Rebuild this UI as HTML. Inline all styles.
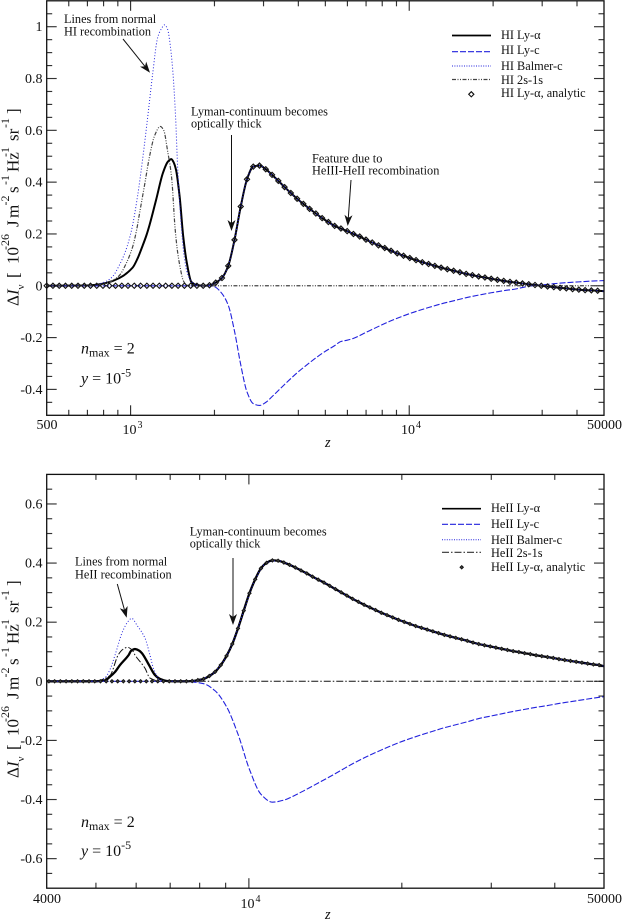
<!DOCTYPE html>
<html lang="en">
<head>
<meta charset="utf-8">
<title>HI and HeII recombination spectra</title>
<style>
html,body{margin:0;padding:0;background:#fff;width:622px;height:921px;overflow:hidden}
svg{display:block;font-family:"Liberation Serif","DejaVu Serif",serif;fill:#111}
.ann{font-size:12.3px}
.leg{font-size:12.3px}
.tick{font-size:14px}
.ylab{font-size:17px}
.note{font-size:16px}
</style>
</head>
<body>
<svg id="chart" xmlns="http://www.w3.org/2000/svg" width="622" height="921" viewBox="0 0 622 921">
<rect x="0" y="0" width="622" height="921" fill="#fff"/>
<g id="top-plot"></g>
<g id="bottom-plot"></g>

<g class="tick">
<text x="47" y="429" text-anchor="middle">500</text>
<text x="122.5" y="434">10<tspan dx="1" dy="-6" font-size="10">3</tspan></text>
<text x="401" y="434">10<tspan dx="1" dy="-6" font-size="10">4</tspan></text>
<text x="604.5" y="429" text-anchor="middle">50000</text>
<text x="325" y="447" font-style="italic" font-size="14.5">z</text>
</g>
<g class="tick">
<text x="47" y="903" text-anchor="middle">4000</text>
<text x="240.5" y="908">10<tspan dx="1" dy="-6" font-size="10">4</tspan></text>
<text x="604.5" y="903" text-anchor="middle">50000</text>
<text x="325" y="919" font-style="italic" font-size="14.5">z</text>
</g>

<g>
<text transform="rotate(-90)" class="ylab"><tspan x="-306" y="18.5">Δ</tspan><tspan x="-295" y="18.5" font-style="italic">I</tspan><tspan x="-289.5" y="24" font-size="11">ν</tspan><tspan x="-278" y="18.5">[</tspan><tspan x="-264" y="18.5">10</tspan><tspan x="-250" y="9" font-size="12">-26</tspan><tspan x="-227" y="18.5">J</tspan><tspan x="-218" y="18.5">m</tspan><tspan x="-205.5" y="9" font-size="12">-2</tspan><tspan x="-193" y="18.5">s</tspan><tspan x="-185" y="9" font-size="12">-1</tspan><tspan x="-172" y="18.5">Hz</tspan><tspan x="-157" y="9" font-size="12">-1</tspan><tspan x="-141" y="18.5">sr</tspan><tspan x="-128" y="9" font-size="12">-1</tspan><tspan x="-114" y="18.5">]</tspan></text>
</g>
<g transform="translate(0,472)">
<text transform="rotate(-90)" class="ylab"><tspan x="-306" y="18.5">Δ</tspan><tspan x="-295" y="18.5" font-style="italic">I</tspan><tspan x="-289.5" y="24" font-size="11">ν</tspan><tspan x="-278" y="18.5">[</tspan><tspan x="-264" y="18.5">10</tspan><tspan x="-250" y="9" font-size="12">-26</tspan><tspan x="-227" y="18.5">J</tspan><tspan x="-218" y="18.5">m</tspan><tspan x="-205.5" y="9" font-size="12">-2</tspan><tspan x="-193" y="18.5">s</tspan><tspan x="-185" y="9" font-size="12">-1</tspan><tspan x="-172" y="18.5">Hz</tspan><tspan x="-157" y="9" font-size="12">-1</tspan><tspan x="-141" y="18.5">sr</tspan><tspan x="-128" y="9" font-size="12">-1</tspan><tspan x="-114" y="18.5">]</tspan></text>
</g>

<g class="ann">
<text x="64" y="23">Lines from normal</text>
<text x="64" y="35.5">HI recombination</text>
<line x1="123" y1="39" x2="145" y2="66.4" stroke="#111" stroke-width="1"/>
<polygon points="150,72.7 146.2,61.6 145,66.4 140,66.6" fill="#111"/>
<text x="191" y="115.7">Lyman-continuum becomes</text>
<text x="191" y="127.7">optically thick</text>
<line x1="231.5" y1="135" x2="231.5" y2="223" stroke="#111" stroke-width="1"/>
<polygon points="231.5,231 227.5,220 231.5,223 235.5,220" fill="#111"/>
<text x="312" y="162.5">Feature due to</text>
<text x="312" y="174.7">HeIII-HeII recombination</text>
<line x1="351" y1="180" x2="348.3" y2="218" stroke="#111" stroke-width="1"/>
<polygon points="347.7,226 352.5,215.3 348.3,218 344.5,214.7" fill="#111"/>
<g font-size="16">
<text x="81" y="353.5"><tspan font-style="italic">n</tspan><tspan font-size="12" dy="3">max</tspan><tspan dy="-3"> = 2</tspan></text>
<text x="81" y="383.5"><tspan font-style="italic">y</tspan> = 10<tspan font-size="12" dy="-7">-5</tspan></text>
</g>
</g>

<g class="leg">
<line x1="452" x2="491" y1="35.5" y2="35.5" stroke="#000" stroke-width="1.7"/>
<line x1="452" x2="491" y1="51.7" y2="51.7" stroke="#2222dd" stroke-width="1.2" stroke-dasharray="6 2"/>
<line x1="452" x2="491" y1="66" y2="66" stroke="#2222dd" stroke-width="1" stroke-dasharray="1 1.4"/>
<line x1="452" x2="491" y1="79.5" y2="79.5" stroke="#444" stroke-width="1.2" stroke-dasharray="4 1.5 1 1.5 1 1.5"/>
<polygon points="471.3,91.7 473.9,94.3 471.3,96.9 468.7,94.3" fill="none" stroke="#111" stroke-width="1.1"/>
<text x="501" y="39">HI Ly-α</text>
<text x="501" y="54">HI Ly-c</text>
<text x="501" y="70">HI Balmer-c</text>
<text x="501" y="84">HI 2s-1s</text>
<text x="501" y="97">HI Ly-α, analytic</text>
</g>

<g class="ann">
<text x="75" y="565.7">Lines from normal</text>
<text x="75" y="578.3">HeII recombination</text>
<line x1="117.3" y1="584" x2="124.5" y2="610" stroke="#111" stroke-width="1"/>
<polygon points="126.7,617.7 127.6,606 124.5,610 119.8,608.2" fill="#111"/>
<text x="189.7" y="535.7">Lyman-continuum becomes</text>
<text x="189.7" y="547.7">optically thick</text>
<line x1="233" y1="558" x2="233" y2="617" stroke="#111" stroke-width="1"/>
<polygon points="233,625 229,614 233,617 237,614" fill="#111"/>
<g font-size="16">
<text x="81" y="827"><tspan font-style="italic">n</tspan><tspan font-size="12" dy="3">max</tspan><tspan dy="-3"> = 2</tspan></text>
<text x="81" y="856"><tspan font-style="italic">y</tspan> = 10<tspan font-size="12" dy="-7">-5</tspan></text>
</g>
</g>

<g class="leg">
<line x1="442" x2="481" y1="508.7" y2="508.7" stroke="#000" stroke-width="1.7"/>
<line x1="442" x2="481" y1="524.3" y2="524.3" stroke="#2222dd" stroke-width="1.2" stroke-dasharray="6 2"/>
<line x1="442" x2="481" y1="539.7" y2="539.7" stroke="#2222dd" stroke-width="1" stroke-dasharray="1 1.4"/>
<line x1="442" x2="481" y1="552.3" y2="552.3" stroke="#333" stroke-width="1.1" stroke-dasharray="7 2 1.5 2"/>
<polygon points="461.7,565.6 463.4,567.3 461.7,569 460,567.3" fill="#444" stroke="#111" stroke-width="0.9"/>
<text x="491" y="512">HeII Ly-α</text>
<text x="491" y="528">HeII Ly-c</text>
<text x="491" y="544">HeII Balmer-c</text>
<text x="491" y="557">HeII 2s-1s</text>
<text x="491" y="571">HeII Ly-α, analytic</text>
</g>
</svg>

<script>
/* ---------- Axis tick data ---------- */
const hiXMajorTicks = [1000, 10000];
const hiXMinorTicks = [600, 700, 800, 900, 2000, 3000, 4000, 5000, 6000, 7000, 8000, 9000, 20000, 30000, 40000];
const hiYTickValues = [1, 0.8, 0.6, 0.4, 0.2, 0, -0.2, -0.4];
const hiYTickLabels = ["1", "0.8", "0.6", "0.4", "0.2", "0", "-0.2", "-0.4"];
const hiYMinorTicks = [1.05, 0.95, 0.9, 0.85, 0.75, 0.7, 0.65, 0.55, 0.5, 0.45, 0.35, 0.3, 0.25, 0.15, 0.1, 0.05, -0.05, -0.1, -0.15, -0.25, -0.3, -0.35, -0.45];

const heXMajorTicks = [10000];
const heXMinorTicks = [5000, 6000, 7000, 8000, 9000, 20000, 30000, 40000];
const heYTickValues = [0.6, 0.4, 0.2, 0, -0.2, -0.4, -0.6];
const heYTickLabels = ["0.6", "0.4", "0.2", "0", "-0.2", "-0.4", "-0.6"];
const heYMinorTicks = [0.65, 0.55, 0.5, 0.45, 0.35, 0.3, 0.25, 0.15, 0.1, 0.05, -0.05, -0.1, -0.15, -0.25, -0.3, -0.35, -0.45, -0.5, -0.55, -0.65];

/* ---------- HI panel series ---------- */
const hiLyAlphaZ = [500, 700, 753, 818, 912, 1017, 1059, 1105, 1140, 1170, 1237, 1306, 1361, 1400, 1425, 1456, 1500, 1545, 1592, 1652, 1727, 1847, 1919, 2021, 2128, 2241, 2360, 2485, 2617, 2756, 2902, 3056, 3219, 3390, 3570, 3759, 3959, 4169, 4390, 4623, 4869, 5127, 5400, 5686, 5988, 6306, 6641, 6994, 7365, 7756, 8168, 8602, 9058, 9539, 10046, 10579, 11141, 11733, 12356, 13012, 13703, 14430, 15197, 16004, 16854, 17748, 18691, 19684, 20729, 21830, 22989, 24210, 25496, 26850, 28275, 29777, 31358, 33023, 34777, 36624, 38569, 40617, 42774, 45045, 47437, 50000];
const hiLyAlphaValues = [0, 0.001, 0.004, 0.011, 0.03, 0.07, 0.105, 0.155, 0.195, 0.235, 0.335, 0.435, 0.479, 0.489, 0.478, 0.447, 0.344, 0.19, 0.088, 0.015, 0.003, 0, 0.002, 0.012, 0.03, 0.077, 0.177, 0.306, 0.411, 0.46, 0.464, 0.45, 0.428, 0.405, 0.381, 0.358, 0.336, 0.316, 0.297, 0.279, 0.261, 0.246, 0.231, 0.221, 0.211, 0.2, 0.19, 0.178, 0.167, 0.156, 0.146, 0.135, 0.125, 0.116, 0.107, 0.099, 0.091, 0.084, 0.077, 0.07, 0.064, 0.058, 0.052, 0.046, 0.041, 0.036, 0.032, 0.027, 0.023, 0.019, 0.015, 0.012, 0.009, 0.006, 0.003, 0, -0.003, -0.005, -0.008, -0.01, -0.013, -0.015, -0.017, -0.018, -0.019, -0.021];

const hiLyCZ = [500, 1919, 1970, 2021, 2128, 2241, 2360, 2485, 2617, 2756, 2902, 3056, 3219, 3570, 3959, 4390, 4869, 5400, 5686, 5988, 6306, 6994, 7756, 8602, 9539, 10579, 11733, 13012, 14430, 16004, 17748, 19684, 21830, 24210, 24900, 26850, 29777, 33023, 36624, 40617, 45045, 50000];
const hiLyCValues = [0, 0, -0.001, -0.006, -0.03, -0.075, -0.175, -0.305, -0.41, -0.455, -0.462, -0.45, -0.428, -0.381, -0.336, -0.297, -0.261, -0.231, -0.215, -0.21, -0.203, -0.18, -0.157, -0.135, -0.116, -0.099, -0.084, -0.07, -0.058, -0.046, -0.036, -0.027, -0.019, -0.012, -0.009, -0.002, 0.003, 0.008, 0.012, 0.015, 0.018, 0.02];

const hiBalmerZ = [500, 712, 774, 820, 861, 912, 960, 1008, 1059, 1105, 1151, 1199, 1250, 1287, 1325, 1358, 1380, 1416, 1451, 1475, 1524, 1563, 1603, 1656, 1727, 1847, 1919, 2021, 2128, 2241, 2360, 2485, 2617, 2756, 2902, 3056, 3219, 3570, 3959, 4390, 4869, 5400, 5988, 6641, 7365, 8168, 9058, 10046, 11141, 12356, 13703, 15197, 16854, 18691, 20729, 22989, 25496, 28275, 31358, 34777, 38569, 42774, 47437, 50000];
const hiBalmerValues = [0, 0.001, 0.008, 0.018, 0.035, 0.08, 0.135, 0.215, 0.345, 0.49, 0.648, 0.814, 0.957, 0.99, 1.007, 0.99, 0.949, 0.835, 0.648, 0.46, 0.216, 0.1, 0.045, 0.015, 0.003, 0, 0.002, 0.012, 0.03, 0.077, 0.177, 0.306, 0.411, 0.46, 0.464, 0.45, 0.428, 0.381, 0.336, 0.297, 0.261, 0.231, 0.211, 0.19, 0.167, 0.146, 0.125, 0.107, 0.091, 0.077, 0.064, 0.052, 0.041, 0.032, 0.023, 0.015, 0.009, 0.003, -0.003, -0.008, -0.013, -0.017, -0.019, -0.021];

const hi2s1sZ = [500, 700, 774, 820, 861, 912, 968, 1017, 1051, 1077, 1123, 1170, 1220, 1278, 1315, 1358, 1403, 1445, 1475, 1513, 1545, 1590, 1656, 1800, 50000];
const hi2s1sValues = [0, 0.001, 0.004, 0.01, 0.02, 0.04, 0.09, 0.15, 0.215, 0.28, 0.39, 0.5, 0.58, 0.615, 0.6, 0.52, 0.42, 0.22, 0.13, 0.06, 0.02, 0.003, 0, 0, 0];

const hiAnalyticZ = [500, 526.5, 554.5, 583.9, 614.9, 647.6, 682, 718, 756, 796, 839, 883, 930, 979, 1031, 1086, 1144, 1204, 1268, 1336, 1407, 1481, 1560, 1643, 1730, 1822, 1919, 2021, 2128, 2241, 2360, 2485, 2617, 2756, 2902, 3056, 3219, 3390, 3570, 3759, 3959, 4169, 4390, 4623, 4869, 5127, 5400, 5686, 5988, 6306, 6641, 6994, 7365, 7756, 8168, 8602, 9058, 9539, 10046, 10579, 11141, 11733, 12356, 13012, 13703, 14430, 15197, 16004, 16854, 17748, 18691, 19684, 20729, 21830, 22989, 24210, 25496, 26850, 28275, 29777, 31358, 33023, 34777, 36624, 38569, 40617, 42774, 45045, 47437];
const hiAnalyticValues = [0, 0, 0, 0, 0, 0, 0, 0, 0, 0, 0, 0, 0, 0, 0, 0, 0, 0, 0, 0, 0, 0, 0, 0, 0, 0, 0.002, 0.012, 0.03, 0.077, 0.177, 0.306, 0.411, 0.46, 0.464, 0.45, 0.428, 0.405, 0.381, 0.358, 0.336, 0.316, 0.297, 0.279, 0.261, 0.246, 0.231, 0.221, 0.211, 0.2, 0.19, 0.178, 0.167, 0.156, 0.146, 0.135, 0.125, 0.116, 0.107, 0.099, 0.091, 0.084, 0.077, 0.07, 0.064, 0.058, 0.052, 0.046, 0.041, 0.036, 0.032, 0.027, 0.023, 0.019, 0.015, 0.012, 0.009, 0.006, 0.003, 0, -0.003, -0.005, -0.008, -0.01, -0.013, -0.015, -0.017, -0.018, -0.019];

/* ---------- HeII panel series ---------- */
const heLyAlphaZ = [4000, 5000, 5209, 5330, 5453, 5576, 5800, 5864, 5968, 6078, 6160, 6360, 6535, 6685, 6900, 7153, 7534, 7733, 7936, 8145, 8359, 8579, 8805, 9037, 9275, 9519, 9769, 10026, 10290, 10561, 10839, 11124, 11417, 11717, 12026, 12342, 12667, 13000, 13342, 13693, 14054, 14424, 14803, 15193, 15593, 16003, 16424, 16857, 17300, 17756, 18223, 18703, 19195, 19700, 20218, 20750, 21297, 21857, 22433, 23023, 23629, 24251, 24889, 25544, 26216, 26906, 27614, 28341, 29087, 29852, 30638, 31444, 32272, 33121, 33993, 34887, 35805, 36748, 37715, 38707, 39726, 40771, 41844, 42945, 44076, 45236, 46426, 47648, 48902, 50000];
const heLyAlphaValues = [0, 0, 0.003, 0.016, 0.032, 0.055, 0.089, 0.103, 0.109, 0.104, 0.095, 0.055, 0.021, 0.008, 0.001, 0, 0, 0.001, 0.004, 0.008, 0.018, 0.032, 0.055, 0.086, 0.126, 0.179, 0.239, 0.298, 0.345, 0.382, 0.401, 0.409, 0.408, 0.402, 0.394, 0.385, 0.375, 0.365, 0.354, 0.344, 0.334, 0.323, 0.312, 0.301, 0.29, 0.279, 0.269, 0.259, 0.25, 0.241, 0.232, 0.224, 0.216, 0.208, 0.201, 0.194, 0.187, 0.181, 0.175, 0.169, 0.163, 0.157, 0.152, 0.147, 0.142, 0.137, 0.131, 0.126, 0.122, 0.118, 0.114, 0.11, 0.106, 0.102, 0.099, 0.095, 0.092, 0.088, 0.085, 0.082, 0.079, 0.075, 0.072, 0.069, 0.066, 0.063, 0.06, 0.057, 0.055, 0.051];

const heLyCZ = [4000, 7341, 7733, 8145, 8579, 9037, 9519, 10026, 10561, 11124, 11717, 12342, 13000, 13693, 14424, 15193, 16003, 16857, 17756, 18703, 19700, 20750, 21857, 23023, 24251, 25544, 26906, 28341, 29852, 31444, 33121, 34887, 36748, 38707, 40771, 42945, 45236, 47648, 50000];
const heLyCValues = [0, 0, -0.002, -0.008, -0.032, -0.086, -0.179, -0.298, -0.382, -0.409, -0.402, -0.385, -0.365, -0.344, -0.323, -0.301, -0.279, -0.259, -0.241, -0.224, -0.208, -0.194, -0.181, -0.169, -0.157, -0.147, -0.137, -0.126, -0.118, -0.11, -0.102, -0.095, -0.088, -0.082, -0.075, -0.069, -0.063, -0.057, -0.052];

const heBalmerZ = [4000, 5000, 5209, 5330, 5453, 5640, 5800, 5880, 6020, 6245, 6387, 6500, 6685, 6900, 7341, 7936, 8359, 8805, 9275, 9769, 10290, 10839, 11417, 12026, 12667, 13342, 14054, 14803, 15593, 16424, 17300, 18223, 19195, 20218, 21297, 22433, 23629, 24889, 26216, 27614, 29087, 30638, 32272, 33993, 35805, 37715, 39726, 41844, 44076, 46426, 48902, 50000];
const heBalmerValues = [0, 0, 0.012, 0.04, 0.089, 0.168, 0.205, 0.213, 0.19, 0.146, 0.089, 0.04, 0.005, 0, 0, 0.004, 0.018, 0.055, 0.126, 0.239, 0.345, 0.401, 0.408, 0.394, 0.375, 0.354, 0.334, 0.312, 0.29, 0.269, 0.25, 0.232, 0.216, 0.201, 0.187, 0.175, 0.163, 0.152, 0.142, 0.131, 0.122, 0.114, 0.106, 0.099, 0.092, 0.085, 0.079, 0.072, 0.066, 0.06, 0.055, 0.051];

const he2s1sZ = [4000, 5000, 5100, 5330, 5530, 5650, 5768, 5900, 5968, 6245, 6387, 6700, 6900, 50000];
const he2s1sValues = [0, 0, 0.004, 0.02, 0.089, 0.108, 0.115, 0.105, 0.089, 0.044, 0.011, 0, 0, 0];

const heAnalyticZ = [4040, 4146, 4255, 4367, 4482, 4600, 4721, 4845, 4973, 5104, 5238, 5376, 5517, 5662, 5811, 5964, 6121, 6282, 6447, 6617, 6791, 6970, 7153, 7341, 7534, 7733, 7936, 8145, 8359, 8579, 8805, 9037, 9275, 9519, 9769, 10026, 10290, 10561, 10839, 11124, 11417, 11717, 12026, 12342, 12667, 13000, 13342, 13693, 14054, 14424, 14803, 15193, 15593, 16003, 16424, 16857, 17300, 17756, 18223, 18703, 19195, 19700, 20218, 20750, 21297, 21857, 22433, 23023, 23629, 24251, 24889, 25544, 26216, 26906, 27614, 28341, 29087, 29852, 30638, 31444, 32272, 33121, 33993, 34887, 35805, 36748, 37715, 38707, 39726, 40771, 41844, 42945, 44076, 45236, 46426, 47648, 48902];
const heAnalyticValues = [0, 0, 0, 0, 0, 0, 0, 0, 0, 0, 0, 0, 0, 0, 0, 0, 0, 0, 0, 0, 0, 0, 0, 0, 0, 0.001, 0.004, 0.008, 0.018, 0.032, 0.055, 0.086, 0.126, 0.179, 0.239, 0.298, 0.345, 0.382, 0.401, 0.409, 0.408, 0.402, 0.394, 0.385, 0.375, 0.365, 0.354, 0.344, 0.334, 0.323, 0.312, 0.301, 0.29, 0.279, 0.269, 0.259, 0.25, 0.241, 0.232, 0.224, 0.216, 0.208, 0.201, 0.194, 0.187, 0.181, 0.175, 0.169, 0.163, 0.157, 0.152, 0.147, 0.142, 0.137, 0.131, 0.126, 0.122, 0.118, 0.114, 0.11, 0.106, 0.102, 0.099, 0.095, 0.092, 0.088, 0.085, 0.082, 0.079, 0.075, 0.072, 0.069, 0.066, 0.063, 0.06, 0.057, 0.055];

/* ---------- Rendering ---------- */
const NS = "http://www.w3.org/2000/svg";

function make(parent, tag, attrs) {
  const el = document.createElementNS(NS, tag);
  for (const key in attrs) el.setAttribute(key, attrs[key]);
  parent.appendChild(el);
  return el;
}

function makeScales(left, right, top, bottom, zMin, zMax, vMin, vMax) {
  const lo = Math.log10(zMin), hi = Math.log10(zMax);
  return {
    left, right, top, bottom,
    x: z => left + (Math.log10(z) - lo) / (hi - lo) * (right - left),
    y: v => bottom - (v - vMin) / (vMax - vMin) * (bottom - top)
  };
}

/* monotone cubic through the pixel positions of the data points */
function curvePath(xs, ys) {
  const n = xs.length;
  const d = [], m = [];
  for (let i = 0; i < n - 1; i++) d.push((ys[i + 1] - ys[i]) / (xs[i + 1] - xs[i]));
  m.push(d[0]);
  for (let i = 1; i < n - 1; i++) m.push(d[i - 1] * d[i] <= 0 ? 0 : 2 * d[i - 1] * d[i] / (d[i - 1] + d[i]));
  m.push(d[n - 2]);
  let path = "M" + xs[0].toFixed(2) + " " + ys[0].toFixed(2);
  for (let i = 0; i < n - 1; i++) {
    const h = (xs[i + 1] - xs[i]) / 3;
    path += "C" + (xs[i] + h).toFixed(2) + " " + (ys[i] + m[i] * h).toFixed(2) + " " +
      (xs[i + 1] - h).toFixed(2) + " " + (ys[i + 1] - m[i + 1] * h).toFixed(2) + " " +
      xs[i + 1].toFixed(2) + " " + ys[i + 1].toFixed(2);
  }
  return path;
}

function drawSeries(group, scale, zs, values, style, name) {
  const el = make(group, "path", Object.assign({
    d: curvePath(zs.map(scale.x), values.map(scale.y)),
    fill: "none"
  }, style));
  
  
}

function drawMarkers(group, scale, zs, values, size, fill, width, name) {
  zs.forEach((z, i) => {
    const cx = scale.x(z), cy = scale.y(values[i]);
    const el = make(group, "polygon", {
      points: [cx, cy - size, cx + size, cy, cx, cy + size, cx - size, cy].join(" "),
      fill: fill,
      stroke: "#111",
      "stroke-width": width
    });
    
    
  });
}

function drawTickSet(group, s, xMajor, xMinor, yMajor, yMinor, name) {
  const lines = [];
  xMajor.forEach(z => lines.push([s.x(z), 10]));
  xMinor.forEach(z => lines.push([s.x(z), 5.5]));
  lines.forEach(t => {
    const bottomTick = make(group, "line", {x1: t[0], x2: t[0], y1: s.bottom, y2: s.bottom - t[1], stroke: "#333", "stroke-width": 1.15});
    
    
    const topTick = make(group, "line", {x1: t[0], x2: t[0], y1: s.top, y2: s.top + t[1], stroke: "#333", "stroke-width": 1.15});
    
    
  });
  const yLines = [];
  yMajor.forEach(v => yLines.push([s.y(v), 10]));
  yMinor.forEach(v => yLines.push([s.y(v), 5.5]));
  yLines.forEach(t => {
    const leftTick = make(group, "line", {x1: s.left, x2: s.left + t[1], y1: t[0], y2: t[0], stroke: "#333", "stroke-width": 1.15});
    
    
    const rightTick = make(group, "line", {x1: s.right, x2: s.right - t[1], y1: t[0], y2: t[0], stroke: "#333", "stroke-width": 1.15});
    
    
  });
}

function drawYLabels(group, s, values, labels, name) {
  values.forEach((v, i) => {
    const t = make(group, "text", {x: 42.5, y: s.y(v) + 4.5, "text-anchor": "end", "font-size": 14});
    t.textContent = labels[i];
    
    
  });
}

function drawFrame(group, s, name) {
  const frame = make(group, "rect", {x: s.left, y: s.top, width: s.right - s.left, height: s.bottom - s.top, fill: "none", stroke: "#111", "stroke-width": 1.3});
  
  
}

const solidTop = {stroke: "#000", "stroke-width": 2};
const solidBottom = {stroke: "#000", "stroke-width": 2.3};
const dashed = {stroke: "#2222dd", "stroke-width": 1.1, "stroke-dasharray": "6 2"};
const dotted = {stroke: "#2222dd", "stroke-width": 1, "stroke-dasharray": "1 2"};
const dashDotDot = {stroke: "#444", "stroke-width": 1.2, "stroke-dasharray": "4 1.5 1 1.5 1 1.5"};
const dashDot = {stroke: "#111", "stroke-width": 1, "stroke-dasharray": "7 2 1.5 2"};

/* HI panel */
const topGroup = document.getElementById("top-plot");
const hiScale = makeScales(46.7, 604, 0.8, 415.3, 500, 50000, -0.5, 1.1);
drawTickSet(topGroup, hiScale, hiXMajorTicks, hiXMinorTicks, hiYTickValues, hiYMinorTicks, "hi");
drawYLabels(topGroup, hiScale, hiYTickValues, hiYTickLabels, "hi");
drawSeries(topGroup, hiScale, hiLyAlphaZ, hiLyAlphaValues, solidTop, "hi-ly-alpha-line");
drawSeries(topGroup, hiScale, hiLyCZ, hiLyCValues, dashed, "hi-ly-c-line");
drawSeries(topGroup, hiScale, hiBalmerZ, hiBalmerValues, dotted, "hi-balmer-c-line");
drawSeries(topGroup, hiScale, hi2s1sZ, hi2s1sValues, dashDotDot, "hi-2s-1s-line");
drawMarkers(topGroup, hiScale, hiAnalyticZ, hiAnalyticValues, 2.6, "none", 1.1, "hi-analytic-point");
drawFrame(topGroup, hiScale, "hi");

/* HeII panel */
const bottomGroup = document.getElementById("bottom-plot");
const heScale = makeScales(46.7, 604, 474.4, 888.2, 4000, 50000, -0.7, 0.7);
drawTickSet(bottomGroup, heScale, heXMajorTicks, heXMinorTicks, heYTickValues, heYMinorTicks, "heii");
drawYLabels(bottomGroup, heScale, heYTickValues, heYTickLabels, "heii");
drawSeries(bottomGroup, heScale, heLyAlphaZ, heLyAlphaValues, solidBottom, "heii-ly-alpha-line");
drawSeries(bottomGroup, heScale, heLyCZ, heLyCValues, dashed, "heii-ly-c-line");
drawSeries(bottomGroup, heScale, heBalmerZ, heBalmerValues, dotted, "heii-balmer-c-line");
drawSeries(bottomGroup, heScale, he2s1sZ, he2s1sValues, dashDot, "heii-2s-1s-line");
drawMarkers(bottomGroup, heScale, heAnalyticZ, heAnalyticValues, 1.7, "#444", 0.9, "heii-analytic-point");
drawFrame(bottomGroup, heScale, "heii");
</script>
</body>
</html>
